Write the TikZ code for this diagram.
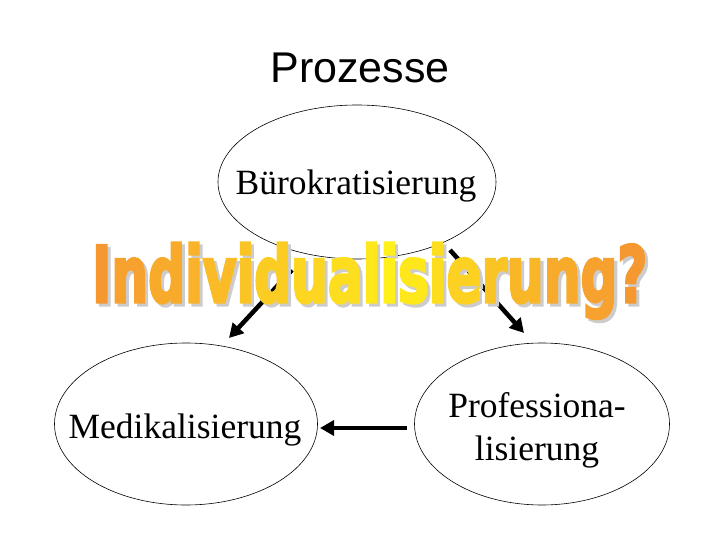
\documentclass[tikz,border=0pt]{standalone}
\usepackage{fontspec}
\setmainfont{Liberation Serif}
\newfontfamily\arialf{Liberation Sans}
\newfontfamily\impf[FakeBold=4]{DejaVu Sans Bold}
\usetikzlibrary{shapes.geometric,arrows.meta}
\definecolor{og}{RGB}{246,152,48}
\definecolor{yl}{RGB}{255,240,25}
\newcommand\yc[2]{\textcolor{yl!#1!og}{#2}}
\begin{document}
\begin{tikzpicture}[x=1pt,y=-1pt,
  ell/.style={ellipse,draw,line width=0.6pt,inner sep=0pt},
  lbl/.style={font=\fontsize{35.5}{43}\selectfont,align=center},
  arr/.style={line width=4.5pt,-{Triangle[length=14pt,width=15pt]}},
  big/.style={inner sep=0pt,anchor=base west,font=\impf}]
\useasboundingbox (0,0) rectangle (720,540);
\node[font=\arialf\fontsize{43}{50}\selectfont] (title) at (360,68) {Prozesse};
\node[ell,minimum width=278pt,minimum height=154pt] (buero) at (357,182) {};
\node[ell,minimum width=263pt,minimum height=162pt] (medi) at (186,424) {};
\node[ell,minimum width=255pt,minimum height=162pt] (prof) at (542,424) {};
\node[lbl] (tbuero) at (356,186) {Bürokratisierung};
\node[lbl] (tmedi) at (185,430) {Medikalisierung};
\node[lbl] (tprof) at (537,430) {Professiona-\\lisierung};
\coordinate (la) at (292,270);
\coordinate (lb) at (229,338);
\coordinate (ra) at (450,250);
\coordinate (rb) at (524,333);
\coordinate (ba) at (407,428);
\coordinate (bb) at (320,428);
\draw[arr] (la) -- (lb);
\draw[arr] (ra) -- (rb);
\draw[arr] (ba) -- (bb);
\node[big,text=gray!40] (shadow) at (95,305) {\resizebox{555pt}{59pt}{Individualisierung?}};
\node[big] (indiv) at (92,302) {\resizebox{555pt}{59pt}{\yc{0}{I}\yc{10}{n}\yc{20}{d}\yc{30}{i}\yc{40}{v}\yc{50}{i}\yc{60}{d}\yc{70}{u}\yc{80}{a}\yc{90}{l}\yc{100}{i}\yc{90}{s}\yc{80}{i}\yc{65}{e}\yc{50}{r}\yc{35}{u}\yc{20}{n}\yc{10}{g}\yc{0}{?}}};
\end{tikzpicture}
\end{document}
